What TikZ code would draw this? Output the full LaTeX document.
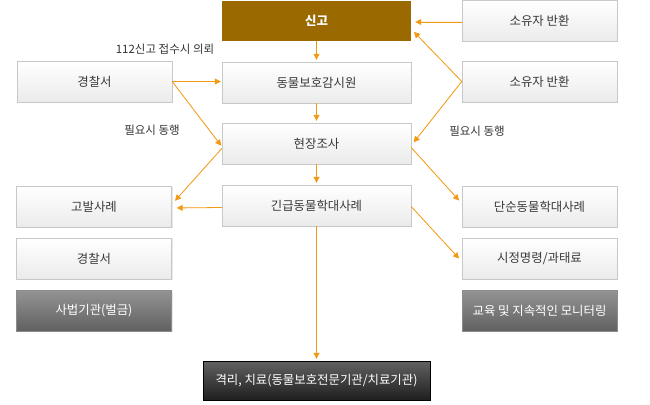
\documentclass[tikz,border=0pt]{standalone}
\usepackage{fontspec}
\setmainfont{Noto Sans CJK KR}
\usepackage{xcolor}
\usetikzlibrary{arrows.meta, calc, shadows}

\definecolor{flowline}{HTML}{F39A14}
\definecolor{brownbox}{HTML}{9A6A00}
\definecolor{boxtext}{HTML}{3A3A3A}
\definecolor{boxedge}{HTML}{C8C8C8}

\begin{document}
\begin{tikzpicture}[x=1pt, y=-1pt, >={Triangle[length=6pt, width=6pt]},
  every node/.style={font=\fontsize{12.4}{14}\selectfont},
  lightbox/.style={draw=boxedge, text=boxtext, top color=white, bottom color=black!8, minimum height=41pt, inner sep=0pt,
    drop shadow={opacity=0.18, shadow xshift=1.2pt, shadow yshift=-1.2pt}},
  sidebox/.style={lightbox, minimum width=155pt},
  mainbox/.style={lightbox, minimum width=189pt},
  greybox/.style={draw=black!45, text=white, top color=black!42, bottom color=black!62, minimum width=155pt, minimum height=41pt, inner sep=0pt,
    drop shadow={opacity=0.18, shadow xshift=1.2pt, shadow yshift=-1.2pt}},
  flow/.style={->, draw=flowline, fill=flowline, line width=0.8pt, shorten >=2pt},
  note/.style={font=\fontsize{11.5}{13}\selectfont, text=black!80}]
  \useasboundingbox (0,0) rectangle (650,404);

  % centre column
  \node[fill=brownbox, text=white, minimum width=189pt, minimum height=40pt, font=\fontsize{12.4}{14}\selectfont\bfseries] (report) at (316.5,21) {신고};
  \node[mainbox] (watch) at (316.5,82.5) {동물보호감시원};
  \node[mainbox] (survey) at (316.5,143.5) {현장조사};
  \node[mainbox] (urgent) at (316.5,205.5) {긴급동물학대사례};
  \node[draw=black, text=white, top color=black!62, bottom color=black!88, minimum width=227pt, minimum height=39pt, inner sep=0pt] (isolate) at (316.5,380.5) {격리, 치료(동물보호전문기관/치료기관)};

  % left column
  \node[sidebox] (police) at (94.5,81.5) {경찰서};
  \node[sidebox] (accuse) at (94,206.5) {고발사례};
  \node[sidebox] (policeb) at (94,258.5) {경찰서};
  \node[greybox] (court) at (94,310.5) {사법기관(벌금)};

  % right column
  \node[sidebox] (owner) at (539.5,20.5) {소유자 반환};
  \node[sidebox] (ownerb) at (539.5,81.5) {소유자 반환};
  \node[sidebox] (simple) at (539.5,206.5) {단순동물학대사례};
  \node[sidebox] (order) at (539.5,258.5) {시정명령/과태료};
  \node[greybox] (edu) at (539.5,310.5) {교육 및 지속적인 모니터링};

  \node[note] (calltag) at (165,49) {112신고 접수시 의뢰};
  \node[note] (withl) at (152,130) {필요시 동행};
  \node[note] (withr) at (477,131) {필요시 동행};

  \draw[flow] (report) -- (watch);
  \draw[flow] (watch) -- (survey);
  \draw[flow] (survey) -- (urgent);
  \draw[flow] (urgent) -- (isolate);

  \draw[flow, shorten >=1pt] (police.east) -- (police.east -| watch.west);
  \draw[flow, shorten >=1pt] (police.east) -- ($(survey.west)+(0,3)$);
  \draw[flow, shorten >=5pt] ($(survey.west)+(0,5)$) -- ($(accuse.east)+(0,-2)$);
  \draw[flow, shorten >=5pt] ($(urgent.west)+(0,2)$) -- ($(accuse.east)+(0,1.5)$);

  \draw[flow, shorten >=4pt] ($(owner.west)+(0,1.5)$) -- ($(report.east)+(0,1)$);
  \draw[flow, shorten >=4pt] (ownerb.west) -- ($(report.east)+(0,8)$);
  \draw[flow, shorten >=4pt] (ownerb.west) -- ($(survey.east)+(0,2)$);
  \draw[flow, shorten >=4pt] ($(survey.east)+(0,4)$) -- ($(simple.west)+(0,-3)$);
  \draw[flow, shorten >=4pt] ($(urgent.east)+(0,1)$) -- ($(order.west)+(0,3)$);
\end{tikzpicture}
\end{document}
